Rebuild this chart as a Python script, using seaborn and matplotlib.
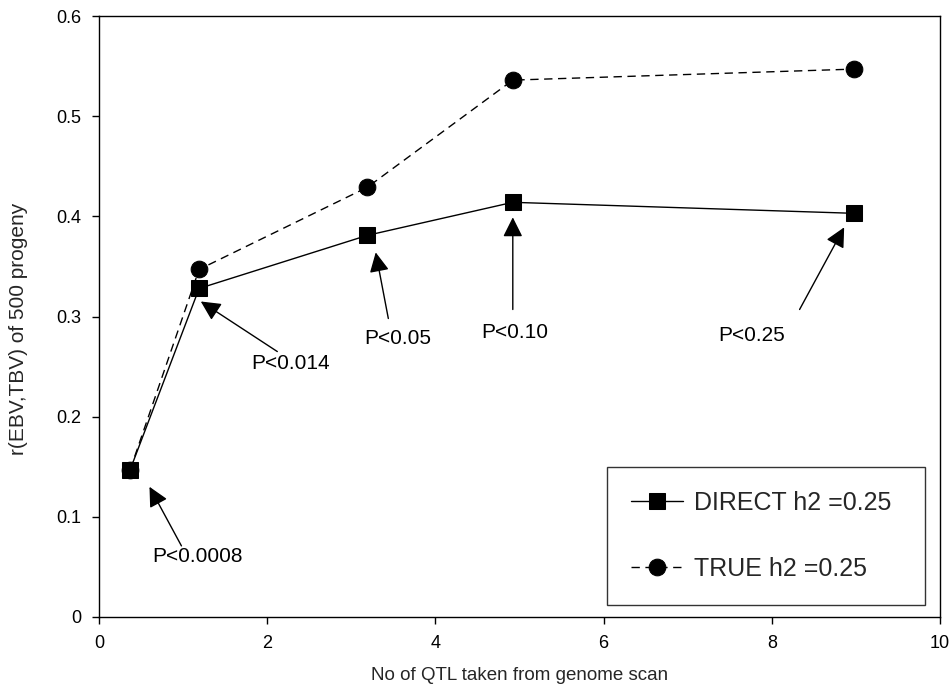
import matplotlib
matplotlib.use("Agg")
import matplotlib.pyplot as plt
import seaborn as sns
import pandas as pd
from matplotlib.ticker import FuncFormatter

# ---- data ----
n_qtl = [0.37, 1.19, 3.19, 4.92, 8.98]
direct_vals = [0.147, 0.328, 0.381, 0.414, 0.403]
true_vals = [0.147, 0.347, 0.429, 0.536, 0.547]
series_names = ["DIRECT h2 =0.25", "TRUE h2 =0.25"]

p_labels = ["P<0.0008", "P<0.014", "P<0.05", "P<0.10", "P<0.25"]
p_text_xy = [(1.17, 0.060), (2.28, 0.253), (3.55, 0.278), (4.94, 0.284), (7.76, 0.281)]
p_tail_xy = [(0.98, 0.071), (2.12, 0.265), (3.44, 0.298), (4.92, 0.307), (8.33, 0.307)]
p_head_xy = [(0.60, 0.130), (1.21, 0.315), (3.29, 0.364), (4.92, 0.399), (8.86, 0.389)]

x_ticks = [0, 2, 4, 6, 8, 10]
y_ticks = [0, 0.1, 0.2, 0.3, 0.4, 0.5, 0.6]

sns.set_style("ticks")
plt.rcParams["font.family"] = ["Liberation Sans", "DejaVu Sans"]

fig = plt.figure(figsize=(9.53, 6.90), dpi=100)
ax = fig.add_axes([0.1039, 0.1058, 0.8825, 0.871])

df_direct = pd.DataFrame({"x": n_qtl, "y": direct_vals})
df_true = pd.DataFrame({"x": n_qtl, "y": true_vals})

sns.lineplot(data=df_direct, x="x", y="y", ax=ax, color="black", lw=1,
             marker="s", markersize=11, markeredgecolor="black",
             label=series_names[0])
sns.lineplot(data=df_true, x="x", y="y", ax=ax, color="black", lw=1,
             linestyle=(0, (6, 4)), marker="o", markersize=12,
             markeredgecolor="black", label=series_names[1])

for lab, txy, tail, head in zip(p_labels, p_text_xy, p_tail_xy, p_head_xy):
    ax.annotate("", xy=head, xytext=tail,
                arrowprops=dict(arrowstyle="-|>,head_length=0.6,head_width=0.3",
                                color="black", lw=1, shrinkA=0, shrinkB=0,
                                mutation_scale=20))
    ax.text(txy[0], txy[1], lab, ha="center", va="center", fontsize=15,
            color="black")

ax.set_xlim(0, 10)
ax.set_ylim(0, 0.6)
ax.set_xticks(x_ticks)
ax.set_yticks(y_ticks)
ax.yaxis.set_major_formatter(FuncFormatter(lambda v, p: "0" if abs(v) < 1e-9 else f"{v:.1f}"))
ax.xaxis.set_major_formatter(FuncFormatter(lambda v, p: f"{int(round(v))}"))
ax.tick_params(axis="both", direction="out", length=5, width=1, labelsize=13,
               colors="black", pad=8)
for s in ax.spines.values():
    s.set_visible(True)
    s.set_color("black")
    s.set_linewidth(1)

ax.set_xlabel("No of QTL taken from genome scan", fontsize=13.5, labelpad=11)
ax.set_ylabel("r(EBV,TBV) of 500 progeny", fontsize=15)
ax.yaxis.set_label_coords(-0.085, 0.48)

leg = ax.legend(loc="lower left", bbox_to_anchor=(0.604, 0.02, 0.378, 0.238),
                mode="expand", fontsize=18, frameon=True, fancybox=False,
                edgecolor="black", labelspacing=1.7, borderpad=0.95,
                handlelength=2.1, handletextpad=0.45, borderaxespad=0)
leg.get_frame().set_linewidth(1)

fig.savefig("out.png", dpi=100)
